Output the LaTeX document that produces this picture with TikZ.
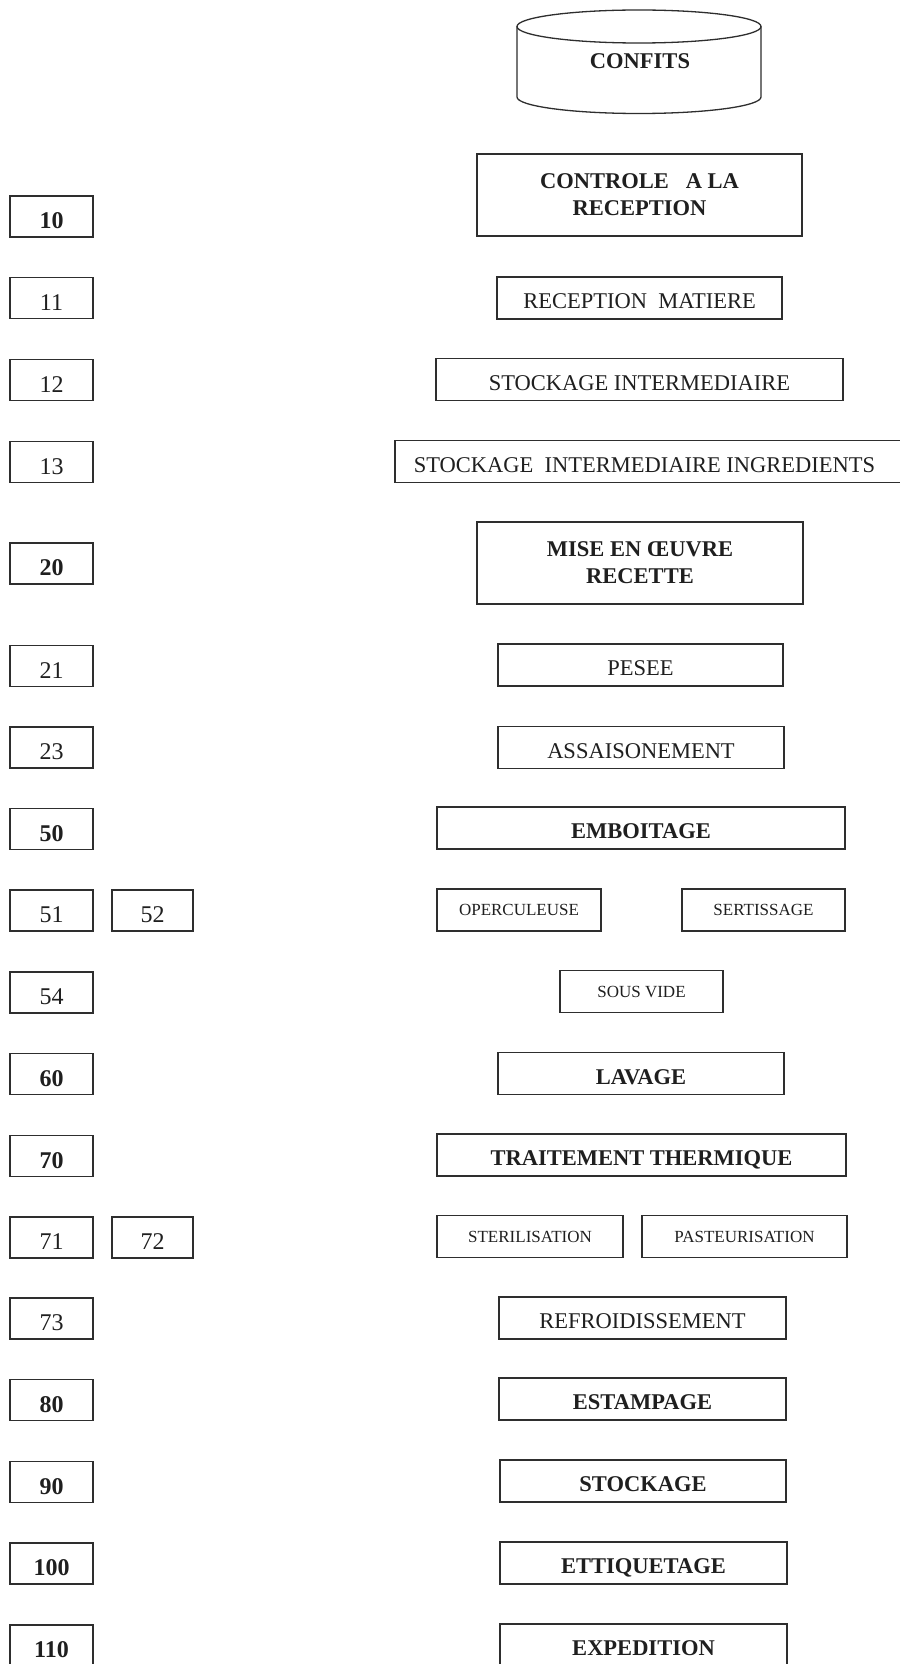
\documentclass[tikz,border=0pt]{standalone}
\usepackage{fontspec}
\setmainfont{Liberation Serif}
\begin{document}
\begin{tikzpicture}[x=1pt,y=-1pt,
  ink/.style={draw=black!82, line width=1.3pt},
  box/.style={ink, inner sep=0pt, text=black!88, align=center},
  rowbox/.style={box, minimum height=42pt},
  tallbox/.style={box, minimum height=82pt},
  nf/.style={font=\fontsize{22.5}{26.5}\selectfont, text height=21pt, text depth=0pt},
  bf/.style={font=\fontsize{22.5}{26.5}\selectfont\bfseries, text height=21pt, text depth=0pt},
  bft/.style={font=\fontsize{22.5}{27}\selectfont\bfseries},
  sf/.style={font=\fontsize{17}{20}\selectfont, text height=11.3pt, text depth=0pt},
  numbox/.style={box, minimum height=41pt, minimum width=83pt, text height=24pt, text depth=0pt},
  numn/.style={numbox, font=\fontsize{24}{28}\selectfont},
  numb/.style={numbox, font=\fontsize{24}{28}\selectfont\bfseries}
]
\useasboundingbox[fill=white] (0,0) rectangle (899,1664);

% cylinder
\draw[ink] (639,26.5) ellipse [x radius=122pt, y radius=16.5pt];
\draw[ink] (517,26.5) -- (517,97)
  arc[start angle=180, end angle=360, x radius=122pt, y radius=16.5pt]
  -- (761,26.5);
\node[font=\fontsize{22.5}{27}\selectfont\bfseries, text=black!88, inner sep=0pt] (confits) at (640,61) {CONFITS};

% left numbers
\node[numb] (n10) at (51.5,216.5) {10};
\node[numn] (n11) at (51.5,298) {11};
\node[numn] (n12) at (51.5,380) {12};
\node[numn] (n13) at (51.5,462) {13};
\node[numb] (n20) at (51.5,563.5) {20};
\node[numn] (n21) at (51.5,666) {21};
\node[numn] (n23) at (51.5,747.5) {23};
\node[numb] (n50) at (51.5,829) {50};
\node[numn] (n51) at (51.5,910.5) {51};
\node[numn, minimum width=81pt] (n52) at (152.5,910.5) {52};
\node[numn] (n54) at (51.5,992.5) {54};
\node[numb] (n60) at (51.5,1074) {60};
\node[numb] (n70) at (51.5,1156) {70};
\node[numn] (n71) at (51.5,1237.5) {71};
\node[numn, minimum width=81pt] (n72) at (152.5,1237.5) {72};
\node[numn] (n73) at (51.5,1318.5) {73};
\node[numb] (n80) at (51.5,1400) {80};
\node[numb] (n90) at (51.5,1482) {90};
\node[numb] (n100) at (51.5,1563.5) {100};
\node[numb] (n110) at (51.5,1645.5) {110};

% right steps
\node[tallbox, bft, minimum width=325pt] (ctrl) at (639.5,195) {CONTROLE\ \ \ A LA\\RECEPTION};
\node[rowbox, nf, minimum width=285pt] (rm) at (639.5,298) {RECEPTION\ \ MATIERE};
\node[rowbox, nf, minimum width=407pt] (si) at (639.5,379.5) {STOCKAGE INTERMEDIAIRE};
\node[rowbox, nf, minimum width=510pt] (sii) at (650,461.5) {\hspace*{-11pt}STOCKAGE\ \ INTERMEDIAIRE INGREDIENTS};
\node[tallbox, bft, minimum width=326pt] (moe) at (640,563) {MISE EN ŒUVRE\\RECETTE};
\node[rowbox, nf, minimum width=285pt] (pes) at (640.5,665) {PESEE};
\node[rowbox, nf, minimum width=286pt] (ass) at (641,747.5) {ASSAISONEMENT};
\node[rowbox, bf, minimum width=408pt] (emb) at (641,828) {EMBOITAGE};
\node[rowbox, sf, minimum width=164pt] (ope) at (519,910) {OPERCULEUSE};
\node[rowbox, sf, minimum width=163pt] (ser) at (763.5,910) {SERTISSAGE};
\node[rowbox, sf, minimum width=163pt] (sv) at (641.5,991.5) {SOUS VIDE};
\node[rowbox, bf, minimum width=286pt] (lav) at (641,1073.5) {LAVAGE};
\node[rowbox, bf, minimum width=409pt] (tt) at (641.5,1155) {TRAITEMENT THERMIQUE};
\node[rowbox, sf, minimum width=186pt] (ste) at (530,1236.5) {STERILISATION};
\node[rowbox, sf, minimum width=205pt] (pas) at (744.5,1236.5) {PASTEURISATION};
\node[rowbox, nf, minimum width=287pt] (ref) at (642.5,1318) {REFROIDISSEMENT};
\node[rowbox, bf, minimum width=287pt] (est) at (642.5,1399) {ESTAMPAGE};
\node[rowbox, bf, minimum width=286pt] (sto) at (643,1481) {STOCKAGE};
\node[rowbox, bf, minimum width=287pt] (eti) at (643.5,1563) {ETTIQUETAGE};
\node[rowbox, bf, minimum width=287pt] (exp) at (643.5,1645) {EXPEDITION};
\end{tikzpicture}
\end{document}
